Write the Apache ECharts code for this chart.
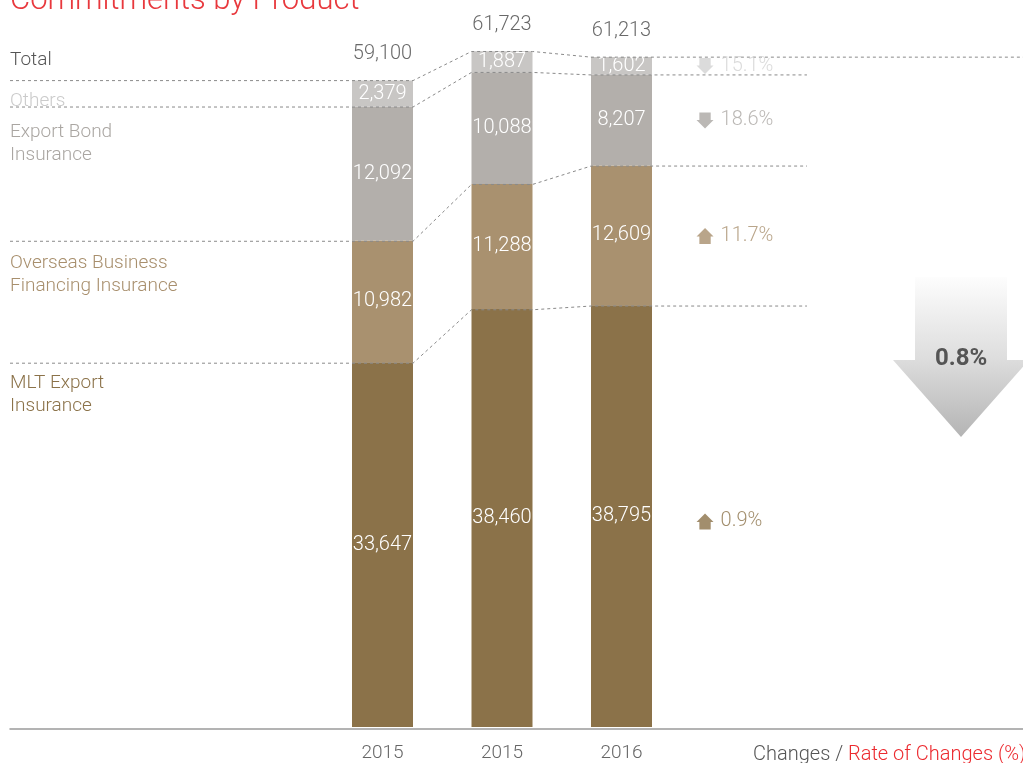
<!DOCTYPE html>
<html><head><meta charset="utf-8">
<script src="https://cdn.jsdelivr.net/npm/echarts@6/dist/echarts.min.js"></script>
<style>html,body{margin:0;padding:0;background:#fff}#c{width:1023px;height:763px}</style>
</head><body><div id="c"></div>
<script>
// ---- data ----
const years = ['2015', '2015', '2016'];
const mlt = [33647, 38460, 38795];
const obfi = [10982, 11288, 12609];
const ebi = [12092, 10088, 8207];
const others = [2379, 1887, 1602];
const totals = [59100, 61723, 61213];
const seriesNames = ['MLT Export Insurance', 'Overseas Business Financing Insurance', 'Export Bond Insurance', 'Others'];
// change rates, last year vs previous (bottom to top: MLT, OBFI, EBI, Others)
const rates = ['0.9%', '11.7%', '18.6%', '15.1%'];
const rateDir = ['up', 'up', 'down', 'down'];
const totalRate = '0.8%';

// ---- style / layout ----
const FONT = 'Roboto, "Helvetica Neue", Arial, sans-serif';
const colors = ['#8b7249', '#a9916f', '#b3afab', '#c8c6c4'];
const textColors = ['#8b7249', '#a88f6d', '#aaa6a2', '#cbcbcb'];
const rateColors = ['#8b7249', '#a88f6d', '#aaa6a2', '#d2d2d2'];
const XMIN = -3.1172, XMAX = 5.3598, XRIGHT = 3.552, XARROW = 2.699, HW = 0.2552;
const YMIN = 700, YMAX = 66000;

const stacks = [mlt, obfi, ebi, others];
const fmt = v => v.toLocaleString('en-US');
const cum = stacks.map((s, k) => s.map((_, i) => stacks.slice(0, k + 1).reduce((a, b) => a + b[i], 0)));

const series = [];
stacks.forEach((s, k) => {
  series.push({
    type: 'bar', name: seriesNames[k], stack: 'a', barWidth: 61, z: 2, xAxisIndex: 0, yAxisIndex: 0,
    itemStyle: { color: colors[k] },
    data: s,
    label: { show: true, position: 'inside', color: '#fff', fontSize: 20, fontWeight: 300, fontFamily: FONT,
      formatter: p => fmt(p.value) },
    silent: true
  });
});
// connecting dashed lines at segment boundaries
cum.forEach((c, k) => {
  series.push({
    type: 'line', z: 5, silent: true, showSymbol: false, symbol: 'none', xAxisIndex: 1, yAxisIndex: 1,
    lineStyle: { color: '#8a8a8a', width: 1, type: [3, 3] },
    data: [[XMIN, c[0]], [-HW, c[0]], [HW, c[0]], [1 - HW, c[1]], [1 + HW, c[1]], [2 - HW, c[2]], [2 + HW, c[2]], [k === 3 ? XMAX : XRIGHT, c[2]]]
  });
});
// totals above bars
series.push({
  type: 'scatter', symbolSize: 1, itemStyle: { color: 'transparent' }, z: 6, silent: true, xAxisIndex: 1, yAxisIndex: 1,
  data: totals.map((v, i) => [i, v]),
  label: { show: true, position: 'top', distance: 16, color: '#444', fontSize: 20, fontWeight: 300, fontFamily: FONT,
    formatter: p => fmt(p.value[1]) }
});
// change rate arrows beside last bar
const downPath = 'path://M3,0L15,0L15,8L18,8L9,17L0,8L3,8Z';
const upPath = 'path://M9,0L18,9L15,9L15,17L3,17L3,9L0,9Z';
series.push({
  type: 'scatter', z: 6, silent: true, xAxisIndex: 1, yAxisIndex: 1,
  data: stacks.map((s, k) => ({
    value: [XARROW, cum[k][2] - s[2] / 2],
    symbol: rateDir[k] === 'up' ? upPath : downPath,
    symbolSize: [17, 16],
    itemStyle: { color: rateColors[k] },
    label: { color: rateColors[k] }
  })),
  label: { show: true, position: 'right', distance: 7, fontSize: 20, fontWeight: 300, fontFamily: FONT,
    formatter: p => rates[p.dataIndex] }
});

const txt = (text, x, y, color, size) => ({ type: 'text', left: x, top: y, style: { text, fill: color, font: `300 ${size}px ${FONT}`, lineHeight: 22.5 } });

const chart = echarts.init(document.getElementById('c'));
chart.setOption({
  animation: false,
  backgroundColor: '#fff',
  grid: [
    { left: 322.75, width: 358.5, top: 4, bottom: 34 },
    { left: 10, right: 0, top: 4, bottom: 34 }
  ],
  xAxis: [
    { type: 'category', gridIndex: 0, data: years, axisLine: { show: false }, axisTick: { show: false },
      axisLabel: { color: '#666', fontSize: 19, fontWeight: 300, fontFamily: FONT, margin: 17 } },
    { type: 'value', gridIndex: 1, min: XMIN, max: XMAX, axisLine: { show: true, onZero: false, lineStyle: { color: '#9a9a9a', width: 1.5 } },
      axisTick: { show: false }, axisLabel: { show: false }, splitLine: { show: false } }
  ],
  yAxis: [
    { type: 'value', gridIndex: 0, min: YMIN, max: YMAX, show: false, splitLine: { show: false } },
    { type: 'value', gridIndex: 1, min: YMIN, max: YMAX, show: false, splitLine: { show: false } }
  ],
  series,
  graphic: [
    { type: 'text', left: 10, top: -14, style: { text: 'Commitments by Product', fill: '#e8383d', font: `300 31px ${FONT}` } },
    txt('Total', 10, 49, '#555', 19),
    txt(seriesNames[3], 10, 90, textColors[3], 19),
    txt('Export Bond\nInsurance', 10, 121, textColors[2], 19),
    txt('Overseas Business\nFinancing Insurance', 10, 252, textColors[1], 19),
    txt('MLT Export\nInsurance', 10, 372, textColors[0], 19),
    { type: 'text', left: 753, top: 745, style: { text: '{a|Changes / }{b|Rate of Changes (%)}', rich: {
      a: { fill: '#555', font: `300 20px ${FONT}` }, b: { fill: '#ec2a2f', font: `300 20px ${FONT}` } } } },
    { type: 'polygon', z: 1, shape: { points: [[915, 277], [1007, 277], [1007, 360], [1029, 360], [961, 437], [893, 360], [915, 360]] },
      style: { fill: new echarts.graphic.LinearGradient(0, 0, 0, 1, [{ offset: 0, color: '#fdfdfd' }, { offset: 0.5, color: '#dedede' }, { offset: 1, color: '#b4b4b4' }]) } },
    { type: 'text', z: 2, left: 935, top: 347, style: { text: totalRate, fill: '#555', font: `bold 24px ${FONT}` } }
  ]
});
</script></body></html>
